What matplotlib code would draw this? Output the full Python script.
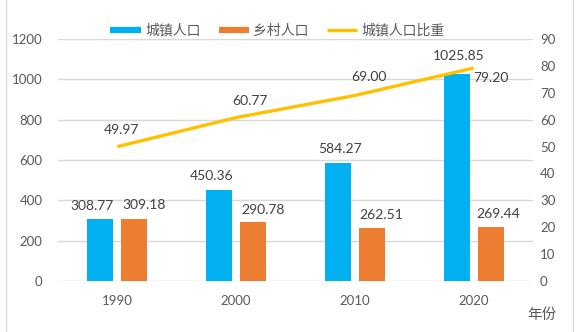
import matplotlib.pyplot as plt
from matplotlib.lines import Line2D
import numpy as np

plt.rcParams['font.family'] = ['Lato', 'Noto Sans CJK SC', 'DejaVu Sans']

years = ['1990', '2000', '2010', '2020']
urban = [308.77, 450.36, 584.27, 1025.85]
rural = [309.18, 290.78, 262.51, 269.44]
ratio = [49.97, 60.77, 69.00, 79.20]

blue = '#00B0F0'
orange = '#ED7D31'
yellow = '#FFC000'
grey_txt = '#595959'
grid_c = '#D9D9D9'

fig = plt.figure(figsize=(5.77, 3.32), dpi=100)
ax = fig.add_axes([58 / 577, 51 / 332, 475 / 577, 242 / 332])
ax2 = ax.twinx()

x = np.arange(len(years))
w = 0.22
off = 0.143
ax.bar(x - off, urban, w, color=blue, zorder=3)
ax.bar(x + off, rural, w, color=orange, zorder=3)
ax2.plot(x, ratio, color=yellow, lw=2.4, solid_capstyle='butt', zorder=4)

ax.set_xlim(-0.5, 3.5)
ax.set_ylim(0, 1200)
ax.set_yticks(range(0, 1201, 200))
ax2.set_ylim(0, 90)
ax2.set_yticks(range(0, 91, 10))
ax.set_xticks(x)
ax.set_xticklabels(years)

ax.grid(axis='y', color=grid_c, lw=1, zorder=0)
for a in (ax, ax2):
    for s in a.spines.values():
        s.set_visible(False)
    a.tick_params(length=0, labelsize=9.5, colors=grey_txt)
ax.tick_params(axis='y', pad=11)
ax.tick_params(axis='x', pad=10)
ax2.tick_params(axis='y', pad=5)

lab_kw = dict(textcoords='offset pixels', ha='center', va='center',
              fontsize=10, color='#404040')
urban_off = [(-8, 13), (-8, 14), (2, 14), (2, 18)]
rural_off = [(10, 14), (10, 12), (9, 13), (8, 13)]
ratio_off = [(4, 17), (14, 17), (14, 18), (17, -10)]
for i in range(len(years)):
    ax.annotate(f'{urban[i]:.2f}', (x[i] - off, urban[i]), xytext=urban_off[i], **lab_kw)
    ax.annotate(f'{rural[i]:.2f}', (x[i] + off, rural[i]), xytext=rural_off[i], **lab_kw)
    ax2.annotate(f'{ratio[i]:.2f}', (x[i], ratio[i]), xytext=ratio_off[i], zorder=5, **lab_kw)

handles = [Line2D([], [], color=blue, lw=4.5, solid_capstyle='butt'),
           Line2D([], [], color=orange, lw=4.5, solid_capstyle='butt'),
           Line2D([], [], color=yellow, lw=2.4, solid_capstyle='butt')]
fig.legend(handles, ['城镇人口', '乡村人口', '城镇人口比重'], ncol=3, frameon=False,
           loc='center', bbox_to_anchor=(277.5 / 577, 1 - 30 / 332),
           fontsize=10, labelcolor=grey_txt, handlelength=2.2,
           handletextpad=0.3, columnspacing=1.3)

fig.text(542 / 577, 1 - 315 / 332, '年份', ha='center', va='center',
         fontsize=10.5, color=grey_txt)

# light frame lines at the picture edges
fig.add_artist(Line2D([6 / 577, 6 / 577], [0, 1], color=grid_c, lw=1))
fig.add_artist(Line2D([573 / 577, 573 / 577], [0, 1], color=grid_c, lw=1))

fig.savefig('out.png', dpi=100)
